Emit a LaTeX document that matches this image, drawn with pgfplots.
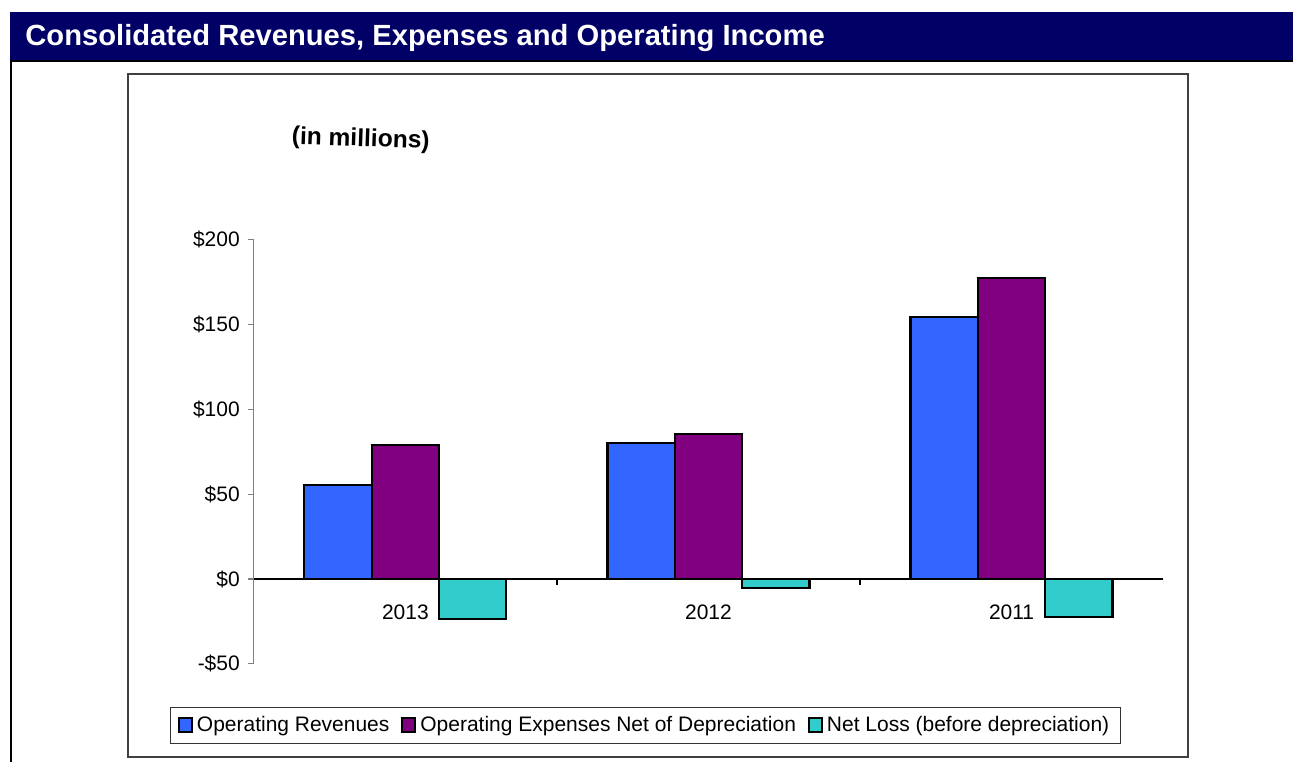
\documentclass[border=0pt]{standalone}
\usepackage{fontspec}
\setmainfont{Liberation Sans}
\usepackage{pgfplots}
\pgfplotsset{compat=1.18}
\definecolor{navy}{RGB}{0,0,102}
\definecolor{revblue}{RGB}{51,102,255}
\definecolor{exppurple}{RGB}{128,0,128}
\definecolor{lossteal}{RGB}{51,204,204}
\pgfplotsset{
  mybar/.style={ybar, bar width=0.2222, draw=black, line width=1.1pt,
    legend image code/.code={\draw[##1,draw=black,line width=1pt] (0pt,-3.5pt) rectangle (6.5pt,3.5pt);}},
}
\begin{document}
\begin{tikzpicture}[x=0.5pt,y=0.5pt]
\path[fill=white] (0,0) rectangle (1294,763);
\fill[navy] (10,751) rectangle (1294,702);
\draw[black,line width=1pt] (10,701.5) -- (1294,701.5);
\node[anchor=base west, text=white, font=\bfseries\fontsize{14.6}{16}\selectfont, inner sep=0pt] at (25,717.7) {Consolidated Revenues, Expenses and Operating Income};
\draw[black,line width=1pt] (11,701) -- (11,0);
\draw[black!75,line width=1pt] (128,689) rectangle (1189,5);
\node[font=\bfseries\fontsize{12.3}{14}\selectfont, rotate=-2] at (361,623) {(in millions)};
\begin{axis}[
  at={(127pt,49.35pt)}, anchor=south west,
  scale only axis, width=455pt, height=212.15pt,
  xmin=-0.5, xmax=2.5, ymin=-50, ymax=200,
  axis x line=middle, axis y line=left,
  axis line style={-},
  x axis line style={black, line width=0.6pt},
  y axis line style={black!50, line width=0.6pt},
  xtick={0,1,2}, xticklabels={2013,2012,2011},
  xtick style={draw=none},
  x tick label style={yshift=-6.3pt, font=\fontsize{10.5}{12}\selectfont},
  ytick={-50,0,50,100,150,200},
  yticklabels={-\$50,\$0,\$50,\$100,\$150,\$200},
  ytick style={black!50, line width=0.6pt},
  tick align=outside, major tick length=3pt,
  y tick label style={font=\fontsize{10.5}{12}\selectfont, xshift=-0.5pt},
  legend columns=3,
  legend style={at={(0.4309,-0.1454)}, anchor=center, draw=black!80, line width=0.5pt,
    font=\fontsize{10.5}{12}\selectfont, inner xsep=3.5pt, inner ysep=2.5pt,
    /tikz/every even column/.append style={column sep=4pt}},
]
\addplot[mybar, bar shift=-0.2222, fill=revblue] coordinates {(0,55.3) (1,80.2) (2,154.5)};
\addlegendentry{Operating Revenues}
\addplot[mybar, bar shift=0, fill=exppurple] coordinates {(0,79.0) (1,85.3) (2,177.4)};
\addlegendentry{Operating Expenses Net of Depreciation}
\addplot[mybar, bar shift=0.2222, fill=lossteal] coordinates {(0,-23.5) (1,-5.1) (2,-22.6)};
\addlegendentry{Net Loss (before depreciation)}
\draw[black, line width=0.6pt] (axis cs:0.5,0) -- ++(0pt,-3pt);
\draw[black, line width=0.6pt] (axis cs:1.5,0) -- ++(0pt,-3pt);
\draw[black!50, line width=0.6pt] (axis cs:2.5,0) -- ++(0pt,-3pt);
\end{axis}
\end{tikzpicture}
\end{document}
